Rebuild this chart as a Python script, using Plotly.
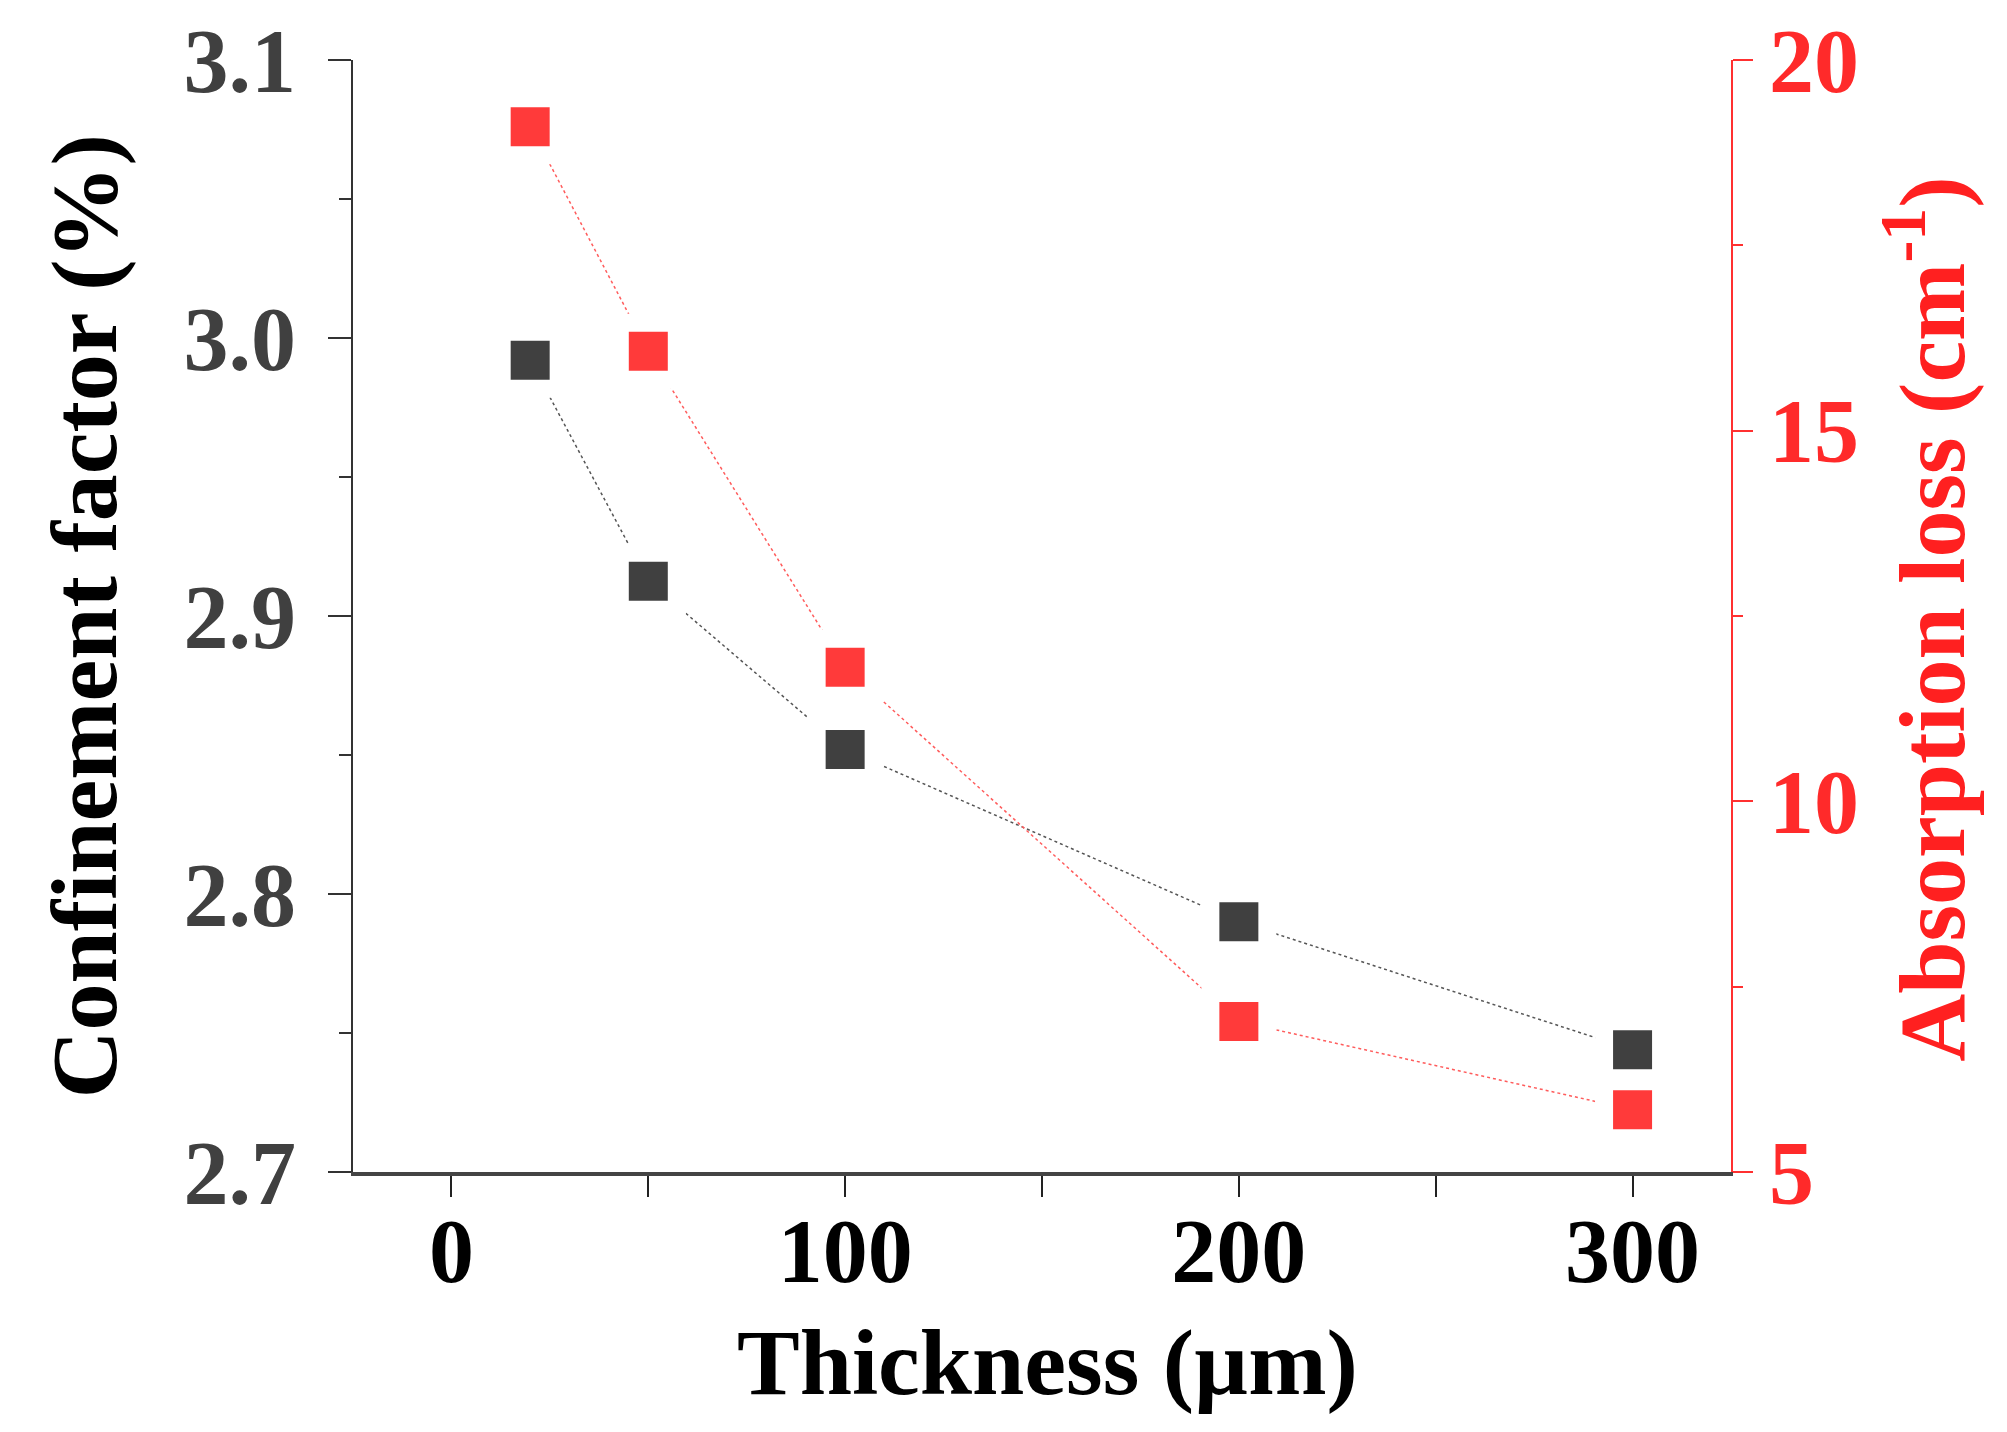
import plotly.graph_objects as go

# thickness (um)
thickness = [20, 50, 100, 200, 300]
# confinement factor (%), left axis
confinement = [2.992, 2.9125, 2.852, 2.790, 2.744]
# absorption loss (cm^-1), right axis
absorption = [19.1, 16.07, 11.81, 7.03, 5.84]

x_ticks = [0, 100, 200, 300]
left_ticks = [2.7, 2.8, 2.9, 3.0, 3.1]
right_ticks = [5, 10, 15, 20]

font_family = "Liberation Serif"
black_col = "#404040"
red_col = "#FF3A3A"

fig = go.Figure()

# white marker outline leaves the small gap between squares and lines
fig.add_trace(go.Scatter(
    x=thickness, y=confinement,
    mode="lines+markers",
    line=dict(color="#555555", width=1.5, dash="dot"),
    marker=dict(symbol="square", size=57, color=black_col,
                line=dict(color="white", width=18)),
    showlegend=False, yaxis="y"
))

fig.add_trace(go.Scatter(
    x=thickness, y=absorption,
    mode="lines+markers",
    line=dict(color="#FF5C5C", width=1.5, dash="dot"),
    marker=dict(symbol="square", size=57, color=red_col,
                line=dict(color="white", width=18)),
    showlegend=False, yaxis="y2"
))

tick_font = dict(family=font_family, size=90, weight="bold")

fig.update_layout(
    width=2007, height=1432,
    paper_bgcolor="white", plot_bgcolor="white",
    margin=dict(l=345, r=284, t=52, b=268, autoexpand=False),
    xaxis=dict(
        range=[-25, 325], tickvals=x_ticks, ticks="outside", ticklen=21, tickwidth=2,
        tickcolor="#222222", showline=True, linecolor="#444444", linewidth=4,
        showgrid=False, zeroline=False, automargin=False,
        tickfont=dict(tick_font, color="black"), ticklabelstandoff=-23,
        minor=dict(ticks="outside", dtick=50, tick0=0, ticklen=21, tickwidth=2, tickcolor="#222222"),
    ),
    xaxis2=dict(
        range=[-25, 325], overlaying="x", side="top", anchor="y",
        tickvals=x_ticks, ticks="inside", ticklen=20, tickwidth=2, tickcolor="#222222",
        showticklabels=False, showline=True, linecolor="#222222", linewidth=2,
        showgrid=False, zeroline=False, automargin=False,
        minor=dict(ticks="inside", dtick=50, tick0=0, ticklen=20, tickwidth=2, tickcolor="#222222"),
    ),
    yaxis=dict(
        range=[2.7, 3.1], tickvals=left_ticks, tickformat=".1f",
        ticks="outside", ticklen=23, tickwidth=2, tickcolor="#333333",
        showline=True, linecolor="#333333", linewidth=2,
        showgrid=False, zeroline=False, automargin=False,
        tickfont=dict(tick_font, color=black_col), ticklabelstandoff=14,
        minor=dict(ticks="outside", dtick=0.05, tick0=2.7, ticklen=12, tickwidth=2, tickcolor="#333333"),
    ),
    yaxis2=dict(
        range=[5, 20], tickvals=right_ticks, overlaying="y", side="right",
        ticks="outside", ticklen=20, tickwidth=2, tickcolor="#FF3030",
        showline=True, linecolor="#FF3030", linewidth=2,
        showgrid=False, zeroline=False, automargin=False,
        tickfont=dict(tick_font, color="#FF2A2A"), ticklabelstandoff=-2,
        minor=dict(ticks="outside", dtick=2.5, tick0=5, ticklen=10, tickwidth=2, tickcolor="#FF3030"),
    ),
    annotations=[
        dict(text="Thickness (µm)", xref="paper", yref="paper", x=0.504, y=-0.171,
             xanchor="center", yanchor="middle", showarrow=False,
             font=dict(family=font_family, size=94, color="black", weight="bold")),
        dict(text="Confinement factor (%)", xref="paper", yref="paper", x=-0.195, y=0.5,
             xanchor="center", yanchor="middle", textangle=-90, showarrow=False,
             font=dict(family=font_family, size=94, color="black", weight="bold")),
        dict(text="Absorption loss (cm<sup>-1</sup>)", xref="paper", yref="paper", x=1.141, y=0.497,
             xanchor="center", yanchor="middle", textangle=-90, showarrow=False,
             font=dict(family=font_family, size=94, color="#FF2020", weight="bold")),
    ],
)

fig.write_html("out.html")
